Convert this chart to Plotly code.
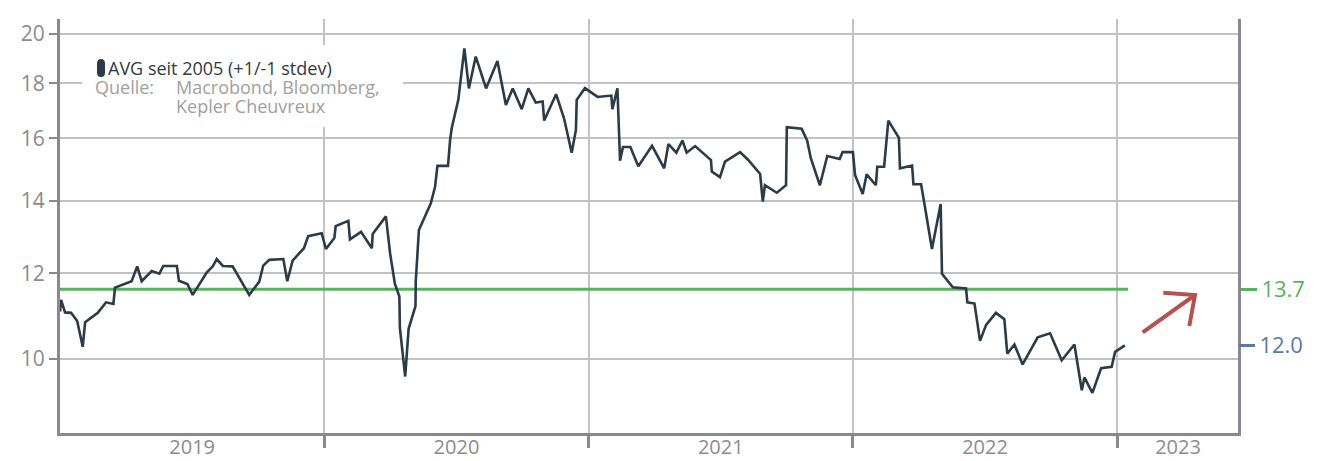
import plotly.graph_objects as go

# ---------------- data ----------------
# time as decimal year, value on the left (log) axis
t = [2019.000, 2019.004, 2019.019, 2019.042, 2019.065, 2019.086, 2019.095, 2019.117, 2019.143, 2019.174,
     2019.202, 2019.208, 2019.271, 2019.292, 2019.309, 2019.347, 2019.376, 2019.391, 2019.442, 2019.450,
     2019.482, 2019.502, 2019.555, 2019.578, 2019.593, 2019.616, 2019.653, 2019.716, 2019.754, 2019.769,
     2019.792, 2019.845, 2019.860, 2019.880, 2019.923, 2019.939, 2019.990, 2020.006, 2020.038, 2020.043,
     2020.091, 2020.097, 2020.139, 2020.180, 2020.183, 2020.233, 2020.249, 2020.267, 2020.284, 2020.286,
     2020.306, 2020.319, 2020.345, 2020.346, 2020.358, 2020.403, 2020.419, 2020.428, 2020.468, 2020.476,
     2020.482, 2020.507, 2020.530, 2020.547, 2020.573, 2020.612, 2020.655, 2020.687, 2020.713, 2020.747,
     2020.772, 2020.800, 2020.826, 2020.832, 2020.877, 2020.907, 2020.936, 2020.952, 2020.955, 2020.986,
     2021.034, 2021.086, 2021.090, 2021.109, 2021.119, 2021.130, 2021.158, 2021.188, 2021.240, 2021.286,
     2021.302, 2021.332, 2021.355, 2021.371, 2021.403, 2021.463, 2021.466, 2021.497, 2021.516, 2021.573,
     2021.604, 2021.649, 2021.659, 2021.667, 2021.712, 2021.747, 2021.750, 2021.806, 2021.827, 2021.841,
     2021.875, 2021.903, 2021.950, 2021.961, 2022.000, 2022.008, 2022.037, 2022.052, 2022.087, 2022.092,
     2022.118, 2022.134, 2022.174, 2022.178, 2022.224, 2022.229, 2022.258, 2022.275, 2022.299, 2022.332,
     2022.337, 2022.378, 2022.428, 2022.433, 2022.460, 2022.481, 2022.504, 2022.541, 2022.573, 2022.584,
     2022.611, 2022.642, 2022.699, 2022.746, 2022.790, 2022.838, 2022.866, 2022.876, 2022.906, 2022.939,
     2022.979, 2022.992, 2023.029]
pe = [11.06, 11.34, 11.04, 11.03, 10.84, 10.26, 10.81, 10.91, 11.03, 11.28,
      11.24, 11.64, 11.80, 12.18, 11.80, 12.06, 11.99, 12.19, 12.19, 11.81,
      11.73, 11.46, 12.02, 12.18, 12.37, 12.19, 12.18, 11.46, 11.79, 12.20,
      12.35, 12.37, 11.80, 12.33, 12.66, 12.99, 13.07, 12.64, 12.94, 13.27,
      13.42, 12.90, 13.11, 12.66, 13.05, 13.55, 12.52, 11.74, 11.42, 10.68,
      9.63, 10.66, 11.19, 11.80, 13.16, 13.93, 14.43, 15.09, 15.09, 15.95,
      16.35, 17.37, 19.39, 17.80, 19.05, 17.80, 18.87, 17.18, 17.80, 17.03,
      17.80, 17.27, 17.31, 16.62, 17.58, 16.70, 15.52, 16.29, 17.37, 17.81,
      17.48, 17.53, 17.03, 17.80, 15.26, 15.71, 15.71, 15.08, 15.75, 15.01,
      15.81, 15.52, 15.93, 15.52, 15.74, 15.28, 14.91, 14.73, 15.23, 15.54,
      15.28, 14.83, 13.98, 14.48, 14.25, 14.48, 16.39, 16.33, 15.92, 15.33,
      14.48, 15.41, 15.31, 15.54, 15.54, 14.80, 14.21, 14.82, 14.48, 15.06,
      15.06, 16.62, 16.02, 15.01, 15.10, 14.51, 14.51, 13.71, 12.64, 13.91,
      11.99, 11.65, 11.62, 11.28, 11.25, 10.39, 10.75, 11.03, 10.88, 10.11,
      10.31, 9.88, 10.47, 10.56, 9.97, 10.31, 9.35, 9.61, 9.30, 9.80,
      9.83, 10.15, 10.29]

avg_level = 11.6
avg_span = [2019.0, 2023.041]
right_labels = ["13.7", "12.0"]

y_ticks = [10, 12, 14, 16, 18, 20]
year_bounds = [2020, 2021, 2022, 2023]
year_label_pos = [2019.5, 2020.5, 2021.5, 2022.5, 2023.23]
year_labels = ["2019", "2020", "2021", "2022", "2023"]

x_range = [2019.0, 2023.457]
y_range = [0.9313, 1.3147]  # log10

legend_title = "AVG seit 2005 (+1/-1 stdev)"
source_label = "Quelle:"
source_lines = ["Macrobond, Bloomberg,", "Kepler Cheuvreux"]

# ---------------- style ----------------
FONT = "Open Sans"
DARK = "#2b3b47"
GREEN = "#5cb160"
BLUE = "#5b7aa3"
RED = "#b5524f"
AXIS = "#8a8a8e"
GRID = "#c2c2c6"
LABEL = "#8c8c8c"

fig = go.Figure()

fig.add_trace(go.Scatter(x=avg_span, y=[avg_level, avg_level], mode="lines",
                         line=dict(color=GREEN, width=3), hoverinfo="skip", showlegend=False))
fig.add_trace(go.Scatter(x=t, y=pe, mode="lines",
                         line=dict(color=DARK, width=2.6), showlegend=False))
# invisible traces anchoring the extra axes
fig.add_trace(go.Scatter(x=[t[-1]], y=[avg_level], yaxis="y2", mode="markers",
                         marker=dict(opacity=0), showlegend=False, hoverinfo="skip"))
fig.add_trace(go.Scatter(x=[t[-1]], y=[pe[-1]], yaxis="y3", mode="markers",
                         marker=dict(opacity=0), showlegend=False, hoverinfo="skip"))
fig.add_trace(go.Scatter(x=year_label_pos, y=[pe[0]] * len(year_label_pos), xaxis="x2",
                         mode="markers", marker=dict(opacity=0), showlegend=False, hoverinfo="skip"))

fig.update_layout(
    width=1324, height=461,
    margin=dict(l=60, r=86, t=19, b=28, autoexpand=False),
    paper_bgcolor="white", plot_bgcolor="white",
    font=dict(family=FONT, color=LABEL),
    xaxis=dict(range=x_range, tickmode="array", tickvals=year_bounds, showticklabels=False,
               ticks="outside", ticklen=12, tickwidth=3, tickcolor=AXIS, automargin=False,
               showgrid=True, gridcolor=GRID, gridwidth=2,
               showline=True, linecolor=AXIS, linewidth=3, zeroline=False),
    xaxis2=dict(range=x_range, overlaying="x", side="bottom", anchor="y", automargin=False,
                tickmode="array", tickvals=year_label_pos, ticktext=year_labels,
                ticks="",
                tickfont=dict(size=20, color=LABEL), showgrid=False, showline=False, zeroline=False),
    yaxis=dict(type="log", range=y_range, tickmode="array", tickvals=y_ticks,
               ticktext=[str(v) for v in y_ticks], automargin=False,
               ticks="outside", ticklen=8, tickwidth=2, tickcolor=AXIS,
               tickfont=dict(size=21, color=LABEL),
               showgrid=True, gridcolor=GRID, gridwidth=2,
               showline=True, linecolor=AXIS, linewidth=3, zeroline=False),
    yaxis2=dict(type="log", range=y_range, overlaying="y", side="right", anchor="x", automargin=False,
                tickmode="array", tickvals=[avg_level], ticktext=[right_labels[0]],
                ticks="outside", ticklen=16, tickwidth=3, tickcolor=GREEN,
                tickfont=dict(size=22, color=GREEN),
                showgrid=False, showline=True, linecolor=AXIS, linewidth=3, zeroline=False),
    yaxis3=dict(type="log", range=y_range, overlaying="y", side="right", anchor="x", automargin=False,
                tickmode="array", tickvals=[pe[-1]], ticktext=[right_labels[1]],
                ticks="outside", ticklen=16, tickwidth=3, tickcolor=BLUE,
                tickfont=dict(size=22, color=BLUE),
                showgrid=False, showline=False, zeroline=False),
)

def px_x(p):
    return (p - 60) / 1178.0

def px_y(p):
    return (433 - p) / 414.0

# legend box (covers gridlines)
fig.add_shape(type="rect", xref="paper", yref="paper",
              x0=px_x(82), x1=px_x(403), y0=px_y(127), y1=px_y(45),
              fillcolor="white", line=dict(width=0), layer="above")
# legend pill marker
x0, x1, yt, yb = px_x(97), px_x(105), px_y(59), px_y(77)
r = (yt - yb) * 0.25
fig.add_shape(type="path", xref="paper", yref="paper",
              path=(f"M {x0},{yb + r} L {x0},{yt - r} Q {x0},{yt} {(x0 + x1) / 2},{yt} "
                    f"Q {x1},{yt} {x1},{yt - r} L {x1},{yb + r} Q {x1},{yb} {(x0 + x1) / 2},{yb} "
                    f"Q {x0},{yb} {x0},{yb + r} Z"),
              fillcolor=DARK, line=dict(width=0), layer="above")

LEG = 18
common = dict(xref="paper", yref="paper", xanchor="left", yanchor="middle", showarrow=False,
              borderpad=0)
fig.add_annotation(x=px_x(107), y=px_y(68), text=legend_title,
                   font=dict(size=LEG, color="#2f3a44", family=FONT), **common)
fig.add_annotation(x=px_x(94), y=px_y(87), text=source_label,
                   font=dict(size=LEG, color="#a0a0a0", family=FONT), **common)
fig.add_annotation(x=px_x(175), y=px_y(87), text=source_lines[0],
                   font=dict(size=LEG, color="#a0a0a0", family=FONT), **common)
fig.add_annotation(x=px_x(175), y=px_y(106), text=source_lines[1],
                   font=dict(size=LEG, color="#a0a0a0", family=FONT), **common)

# arrow (open chevron head)
tail = (px_x(1142.7), px_y(332.3))
tip = (px_x(1195), px_y(295))
arm1 = (px_x(1163.3), px_y(292.7))
arm2 = (px_x(1189.3), px_y(326))
fig.add_shape(type="path", xref="paper", yref="paper",
              path=(f"M {tail[0]},{tail[1]} L {tip[0]},{tip[1]} "
                    f"M {arm1[0]},{arm1[1]} L {tip[0]},{tip[1]} L {arm2[0]},{arm2[1]}"),
              line=dict(color=RED, width=4), layer="above")

fig.write_html("out.html")
